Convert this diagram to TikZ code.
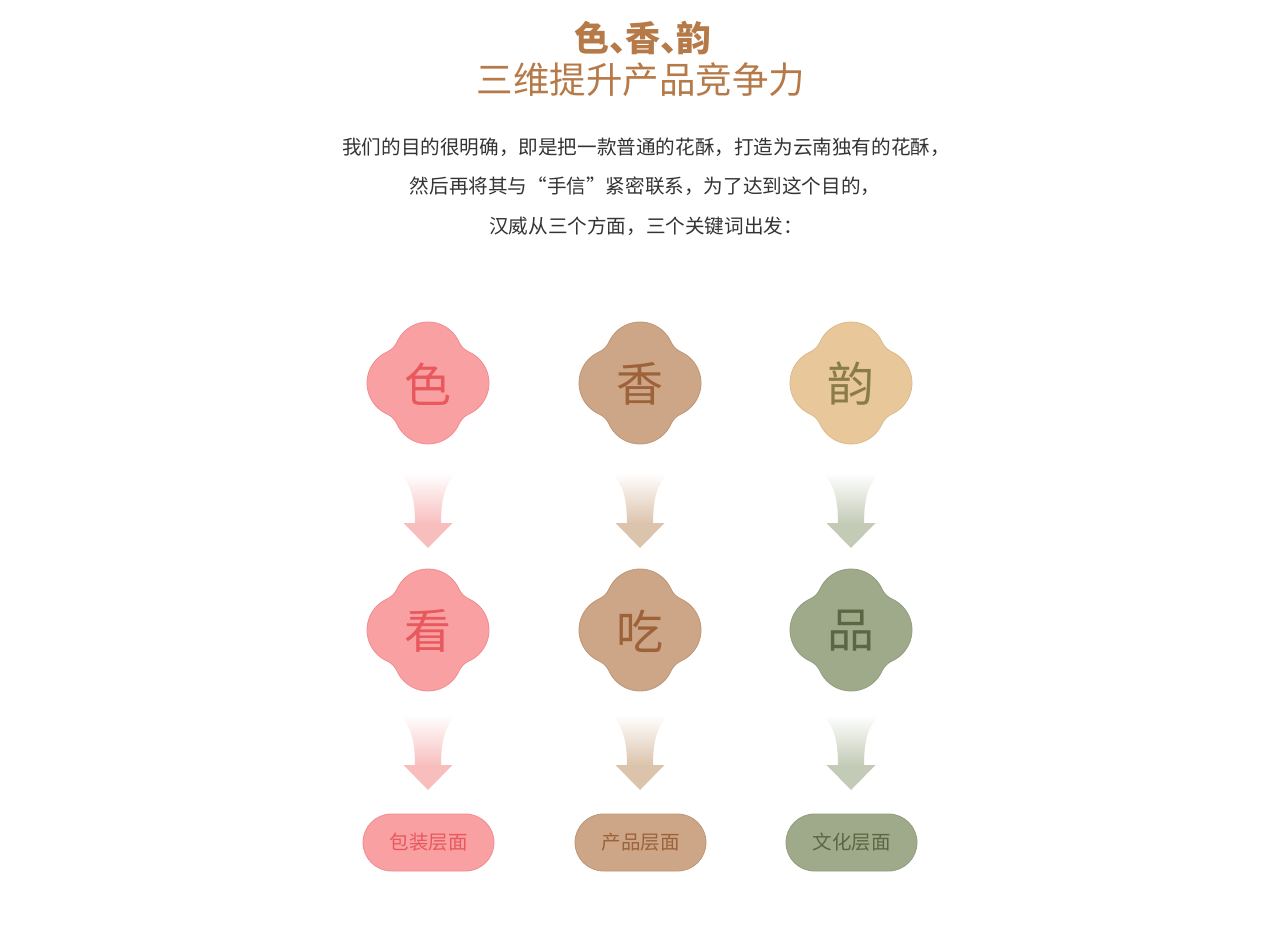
\documentclass[tikz,border=0pt]{standalone}
\usepackage{fontspec}
\newfontfamily\cjk{Noto Sans CJK SC}
\usetikzlibrary{calc}
\definecolor{titlec}{RGB}{182,122,72}
\definecolor{bodyc}{RGB}{51,51,51}
\definecolor{pinkf}{RGB}{249,160,163}
\definecolor{pinkd}{RGB}{240,140,145}
\definecolor{pinkt}{RGB}{232,88,92}
\definecolor{pinka}{RGB}{248,190,190}
\definecolor{tanf}{RGB}{204,166,134}
\definecolor{tand}{RGB}{190,150,118}
\definecolor{tant}{RGB}{158,98,58}
\definecolor{tana}{RGB}{220,195,172}
\definecolor{sandf}{RGB}{232,200,155}
\definecolor{sandd}{RGB}{220,186,140}
\definecolor{sandt}{RGB}{138,124,72}
\definecolor{greenf}{RGB}{158,170,138}
\definecolor{greend}{RGB}{145,158,125}
\definecolor{greent}{RGB}{88,104,68}
\definecolor{greena}{RGB}{195,203,182}
\newcommand\flowershape[3]{%
  \begin{scope}[shift={(#1)}]
  \path[fill=#2, draw=#3, line width=0.8pt]
    (40.99,-30.99) arc[start angle=-65.70, end angle=65.70, radius=34]
    arc[start angle=245.70, end angle=204.30, radius=20]
    arc[start angle=24.30, end angle=155.70, radius=34]
    arc[start angle=-24.30, end angle=-65.70, radius=20]
    arc[start angle=114.30, end angle=245.70, radius=34]
    arc[start angle=65.70, end angle=24.30, radius=20]
    arc[start angle=204.30, end angle=335.70, radius=34]
    arc[start angle=155.70, end angle=114.30, radius=20] -- cycle;
  \end{scope}}
\newcommand\gradarrow[2]{%
  \begin{scope}[shift={(#1)}]
  \shade[top color=white, bottom color=#2]
    (-28,0) .. controls (-17,12) and (-13,25) .. (-13,51) -- (13,51)
    .. controls (13,25) and (17,12) .. (28,0) -- cycle;
  \fill[#2] (-24.5,50) -- (24.5,50) -- (0,75) -- cycle;
  \end{scope}}
\begin{document}
\begin{tikzpicture}[x=1pt,y=-1pt,
  title/.style={text=titlec, font=\cjk\fontsize{36.5}{40}\selectfont, inner sep=0pt},
  body/.style={text=bodyc, font=\cjk\fontsize{19.6}{22}\selectfont, inner sep=0pt},
  petal/.style={font=\cjk\fontsize{47}{52}\selectfont, inner sep=0pt},
  pill/.style={minimum width=131pt, minimum height=57pt, rounded corners=28.5pt,
    line width=0.8pt, font=\cjk\fontsize{19.5}{24}\selectfont, inner sep=0pt}]
\useasboundingbox[fill=white] (0,0) rectangle (1280,947);
\node[title, font=\cjk\bfseries\fontsize{35}{40}\selectfont] (t1) at (643,38) {色、\kern-0.55em香、\kern-0.55em韵};
\node[title] (t2) at (641,80) {三维提升产品竞争力};
\node[body] (b1) at (646,147) {我们的目的很明确，即是把一款普通的花酥，打造为云南独有的花酥，};
\node[body] (b2) at (645,186) {然后再将其与“手信”紧密联系，为了达到这个目的，};
\node[body] (b3) at (646,226) {汉威从三个方面，三个关键词出发：};
% flowers row 1
\flowershape{428,383}{pinkf}{pinkd}
\flowershape{640,383}{tanf}{tand}
\flowershape{851,383}{sandf}{sandd}
\node[petal, text=pinkt] (se) at (428,384) {色};
\node[petal, text=tant] (xiang) at (640,384) {香};
\node[petal, text=sandt] (yun) at (851,384) {韵};
% arrows row 1
\gradarrow{428,473}{pinka}
\gradarrow{640,473}{tana}
\gradarrow{851,473}{greena}
% flowers row 2
\flowershape{428,630}{pinkf}{pinkd}
\flowershape{640,630}{tanf}{tand}
\flowershape{851,630}{greenf}{greend}
\node[petal, text=pinkt] (kan) at (428,631) {看};
\node[petal, text=tant] (chi) at (640,631) {吃};
\node[petal, text=greent] (pin) at (851,631) {品};
% arrows row 2
\gradarrow{428,715}{pinka}
\gradarrow{640,715}{tana}
\gradarrow{851,715}{greena}
% pills
\node[pill, fill=pinkf, draw=pinkd, text=pinkt] (p1) at (428.5,842.5) {包装层面};
\node[pill, fill=tanf, draw=tand, text=tant] (p2) at (640.5,842.5) {产品层面};
\node[pill, fill=greenf, draw=greend, text=greent] (p3) at (851.5,842.5) {文化层面};
\end{tikzpicture}
\end{document}
